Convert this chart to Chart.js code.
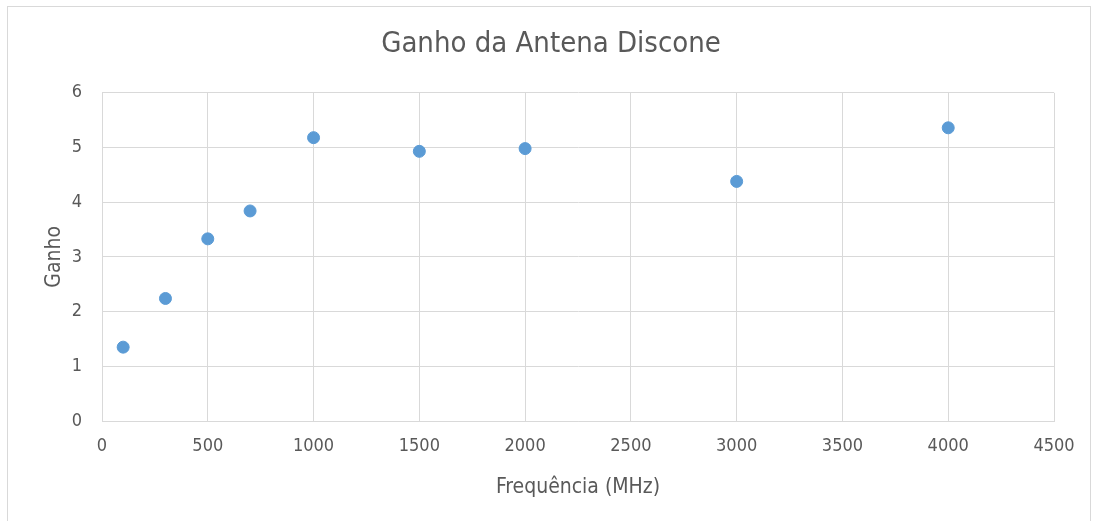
<!DOCTYPE html>
<html>
<head>
<meta charset="utf-8">
<script src="https://cdn.jsdelivr.net/npm/chart.js@4/dist/chart.umd.min.js"></script>
<style>
  html, body { margin: 0; padding: 0; background: #fff; overflow: hidden; }
  #wrap { position: relative; width: 1093px; height: 521px; }
  #frame { position: absolute; left: 7px; top: 6px; width: 1082px; height: 530px; border: 1px solid #d9d9d9; pointer-events: none; }
</style>
</head>
<body>
<div id="wrap">
  <canvas id="chart" width="1093" height="521"></canvas>
  <div id="frame"></div>
</div>
<script>
// Ganho da antena discone vs frequência
var freqMHz = [100, 300, 500, 700, 1000, 1500, 2000, 3000, 4000];
var ganho   = [1.35, 2.24, 3.33, 3.84, 5.18, 4.93, 4.98, 4.38, 5.36];

var FONT = "'DejaVu Sans Condensed', 'DejaVu Sans', sans-serif";
var TEXT = '#595959';
var GRID = '#d9d9d9';

var points = freqMHz.map(function(f, i) { return { x: f, y: ganho[i] }; });

new Chart(document.getElementById('chart'), {
  type: 'scatter',
  data: {
    datasets: [{
      data: points,
      backgroundColor: '#5b9bd5',
      borderColor: '#5b9bd5',
      pointRadius: 6,
      pointHoverRadius: 6
    }]
  },
  options: {
    responsive: false,
    animation: false,
    layout: { padding: { left: 9, right: 0, top: 0, bottom: 0 } },
    plugins: {
      legend: { display: false },
      tooltip: { enabled: false },
      title: {
        display: true,
        text: 'Ganho da Antena Discone',
        color: TEXT,
        font: { family: FONT, size: 29, weight: 'normal' },
        padding: { top: 27, bottom: 31 }
      }
    },
    scales: {
      x: {
        type: 'linear',
        min: 0, max: 4500,
        ticks: { stepSize: 500, color: TEXT, padding: 15, font: { family: FONT, size: 18 }, maxRotation: 0,
                 callback: function(v) { return String(v); } },
        grid: { color: GRID, drawTicks: false },
        border: { color: GRID },
        title: { display: true, text: 'Frequência (MHz)', color: TEXT, font: { family: FONT, size: 21 }, padding: { top: 0, bottom: 21 } },
        afterFit: function(s) { s.height = 100; }
      },
      y: {
        min: 0, max: 6,
        ticks: { stepSize: 1, color: TEXT, padding: 20, font: { family: FONT, size: 18 } },
        grid: { color: GRID, drawTicks: false },
        border: { color: GRID },
        title: { display: true, text: 'Ganho', color: TEXT, font: { family: FONT, size: 21 }, padding: { top: 33, bottom: 0 } },
        afterFit: function(s) { s.width = 93; }
      },
      // empty right-hand spacer so the plot ends at 4500 with room for the last label
      yRight: {
        position: 'right',
        min: 0, max: 6,
        ticks: { display: false },
        grid: { display: false, drawTicks: false },
        border: { display: false },
        afterFit: function(s) { s.width = 39; }
      }
    }
  }
});
</script>
</body>
</html>
